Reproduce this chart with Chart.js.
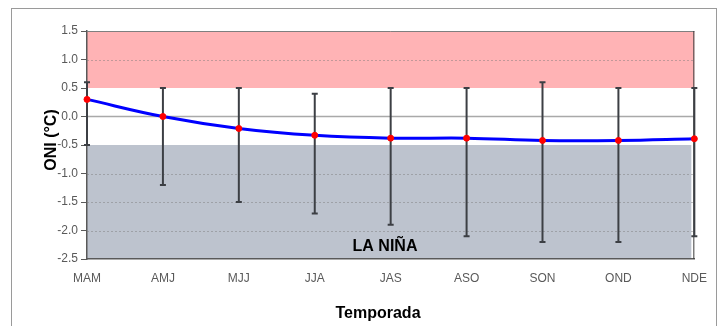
<!DOCTYPE html>
<html>
<head>
<meta charset="utf-8">
<script src="https://cdn.jsdelivr.net/npm/chart.js@4/dist/chart.umd.min.js"></script>
<style>
  html, body { margin: 0; padding: 0; background: #ffffff; }
  #wrap { position: relative; width: 719px; height: 326px; overflow: hidden; }
  #frame { position: absolute; left: 11px; top: 8px; width: 706px; height: 340px; border: 1px solid #9a9a9a; box-sizing: border-box; }
  canvas { position: absolute; left: 0; top: 0; }
</style>
</head>
<body>
<div id="wrap">
  <div id="frame"></div>
  <canvas id="c" width="719" height="326"></canvas>
</div>
<script>
// ---- Data ----
const categories = ['MAM', 'AMJ', 'MJJ', 'JJA', 'JAS', 'ASO', 'SON', 'OND', 'NDE'];
const oniValues  = [0.30, 0.00, -0.21, -0.33, -0.38, -0.38, -0.42, -0.42, -0.39];
const errHigh    = [0.6, 0.5, 0.5, 0.4, 0.5, 0.5, 0.6, 0.5, 0.5];
const errLow     = [-0.5, -1.2, -1.5, -1.7, -1.9, -2.1, -2.2, -2.2, -2.1];
const ninoBand   = [0.5, 1.5];
const ninaBand   = [-2.5, -0.5];
const yTicks     = [1.5, 1.0, 0.5, 0.0, -0.5, -1.0, -1.5, -2.0, -2.5];
const dottedGrid = [1.0, -1.0, -1.5, -2.0];
const zeroLine   = 0.0;
const yTitle = 'ONI (°C)';
const xTitle = 'Temporada';
const ninaLabel = 'LA NIÑA';

const bandsPlugin = {
  id: 'bands',
  beforeDraw(chart) {
    const {ctx, chartArea: a, scales: {y}} = chart;
    ctx.save();
    let t = y.getPixelForValue(ninoBand[1]), b = y.getPixelForValue(ninoBand[0]);
    ctx.fillStyle = '#FFB3B5';
    ctx.fillRect(a.left, t, a.right - a.left, b - t);
    t = y.getPixelForValue(ninaBand[1]); b = y.getPixelForValue(ninaBand[0]);
    ctx.fillStyle = '#BDC3CE';
    ctx.fillRect(a.left, t, a.right - a.left - 3, b - t);
    ctx.restore();
  },
  beforeDatasetsDraw(chart) {
    const {ctx, chartArea: a, scales: {x, y}} = chart;
    ctx.save();
    // dotted gridlines
    ctx.strokeStyle = 'rgba(120,120,120,0.45)';
    ctx.lineWidth = 1;
    ctx.setLineDash([2, 2]);
    dottedGrid.forEach(v => {
      const py = Math.round(y.getPixelForValue(v)) + 0.5;
      ctx.beginPath(); ctx.moveTo(a.left, py); ctx.lineTo(a.right, py); ctx.stroke();
    });
    ctx.setLineDash([]);
    // zero line
    ctx.strokeStyle = '#A9A9A9';
    ctx.lineWidth = 1.5;
    const pz = y.getPixelForValue(zeroLine);
    ctx.beginPath(); ctx.moveTo(a.left, pz); ctx.lineTo(a.right, pz); ctx.stroke();
    // top & right border
    ctx.strokeStyle = '#7f7f7f';
    ctx.lineWidth = 1;
    ctx.beginPath(); ctx.moveTo(a.left, a.top + 0.5); ctx.lineTo(a.right, a.top + 0.5); ctx.stroke();
    ctx.strokeStyle = '#3a3a3a';
    ctx.beginPath(); ctx.moveTo(a.right - 0.5, a.top); ctx.lineTo(a.right - 0.5, a.bottom); ctx.stroke();
    // error bars
    ctx.strokeStyle = '#3c3f44';
    ctx.lineWidth = 2;
    categories.forEach((c, i) => {
      const px = x.getPixelForValue(i);
      const pt = y.getPixelForValue(errHigh[i]);
      const pb = y.getPixelForValue(errLow[i]);
      ctx.beginPath(); ctx.moveTo(px, pt); ctx.lineTo(px, pb); ctx.stroke();
      ctx.beginPath();
      ctx.moveTo(px - 3, pt); ctx.lineTo(px + 3, pt);
      ctx.moveTo(px - 3, pb); ctx.lineTo(px + 3, pb);
      ctx.stroke();
    });
    ctx.restore();
  },
  afterDraw(chart) {
    const {ctx, chartArea: a} = chart;
    ctx.save();
    ctx.fillStyle = '#000000';
    ctx.font = 'bold 16px "Liberation Sans", Arial, sans-serif';
    ctx.textAlign = 'center';
    ctx.textBaseline = 'alphabetic';
    ctx.fillText(ninaLabel, 385, a.bottom - 8);
    ctx.fillText(xTitle, 378, 318);
    ctx.translate(56, 140);
    ctx.rotate(-Math.PI / 2);
    ctx.fillText(yTitle, 0, 0);
    ctx.restore();
  }
};

new Chart(document.getElementById('c'), {
  type: 'line',
  data: {
    labels: categories,
    datasets: [{
      data: oniValues,
      borderColor: '#0000FF',
      borderWidth: 3,
      tension: 0.4,
      pointRadius: 3,
      pointBackgroundColor: '#FF0000',
      pointBorderColor: '#FF0000',
      pointBorderWidth: 1,
      fill: false
    }]
  },
  options: {
    responsive: false,
    animation: false,
    devicePixelRatio: 1,
    layout: { padding: { left: 0, right: 22, top: 31, bottom: 0 } },
    plugins: { legend: { display: false }, tooltip: { enabled: false } },
    scales: {
      x: {
        offset: false,
        grid: { drawOnChartArea: false, drawTicks: false },
        border: { color: '#595959', width: 1.5 },
        ticks: { color: '#595959', font: { family: '"Liberation Sans", Arial, sans-serif', size: 12 }, padding: 12, maxRotation: 0, autoSkip: false },
        afterFit(s) { s.height = 67; }
      },
      y: {
        min: -2.5, max: 1.5,
        afterBuildTicks(s) { s.ticks = yTicks.map(v => ({ value: v })); },
        grid: { drawOnChartArea: false, drawTicks: true, tickLength: 6, tickColor: '#595959' },
        border: { color: '#595959', width: 1.5 },
        ticks: {
          color: '#595959', padding: 3,
          font: { family: '"Liberation Sans", Arial, sans-serif', size: 12 },
          callback: v => Number(v).toFixed(1)
        },
        afterFit(s) { s.width = 87; }
      }
    }
  },
  plugins: [bandsPlugin]
});
</script>
</body>
</html>
